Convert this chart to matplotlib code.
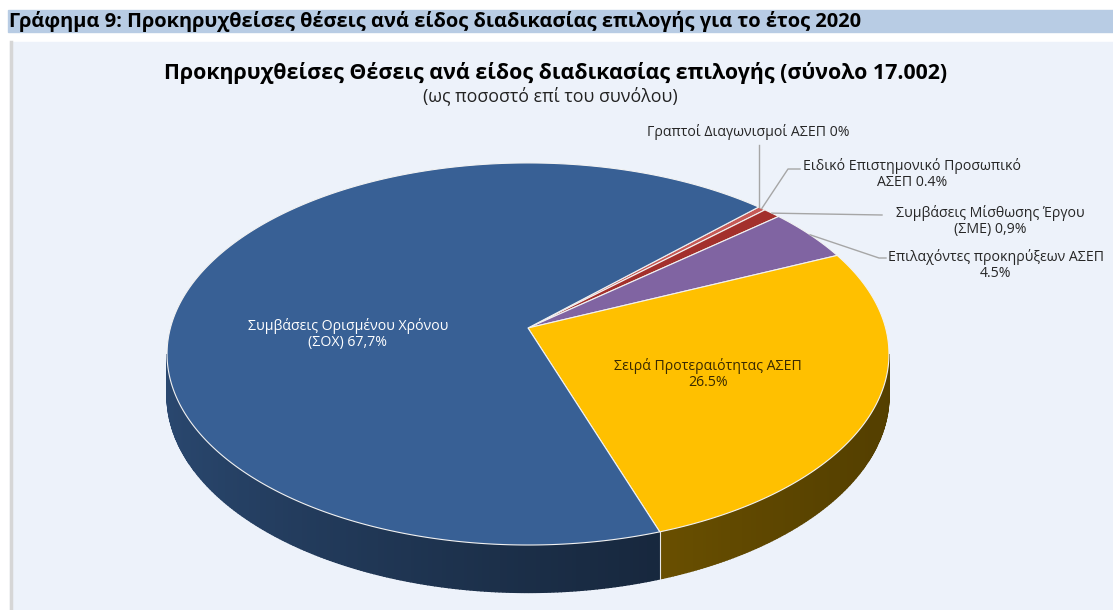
import numpy as np
import matplotlib.pyplot as plt
from matplotlib.colors import to_rgb
from matplotlib.patches import Polygon, Rectangle

plt.rcParams['font.family'] = ['Open Sans', 'DejaVu Sans']

# data: share of advertised posts by selection procedure (total 17.002)
categories = [
    "Γραπτοί Διαγωνισμοί ΑΣΕΠ",
    "Ειδικό Επιστημονικό Προσωπικό ΑΣΕΠ",
    "Συμβάσεις Μίσθωσης Έργου (ΣΜΕ)",
    "Επιλαχόντες προκηρύξεων ΑΣΕΠ",
    "Σειρά Προτεραιότητας ΑΣΕΠ",
    "Συμβάσεις Ορισμένου Χρόνου (ΣΟΧ)",
]
shares = [0.0, 0.4, 0.9, 4.5, 26.5, 67.7]
label_texts = [
    "Γραπτοί Διαγωνισμοί ΑΣΕΠ 0%",
    "Ειδικό Επιστημονικό Προσωπικό\nΑΣΕΠ 0.4%",
    "Συμβάσεις Μίσθωσης Έργου\n(ΣΜΕ) 0,9%",
    "Επιλαχόντες προκηρύξεων ΑΣΕΠ\n4.5%",
    "Σειρά Προτεραιότητας ΑΣΕΠ\n26.5%",
    "Συμβάσεις Ορισμένου Χρόνου\n(ΣΟΧ) 67,7%",
]
colors = ["#c0504d", "#c65a56", "#a3302c", "#8064a2", "#ffc000", "#386095"]

heading = "Γράφημα 9: Προκηρυχθείσες θέσεις ανά είδος διαδικασίας επιλογής για το έτος 2020"
title = "Προκηρυχθείσες Θέσεις ανά είδος διαδικασίας επιλογής (σύνολο 17.002)"
subtitle = "(ως ποσοστό επί του συνόλου)"

# 3d pie geometry (pixels)
CX, CY = 528, 328
RX, RY = 357.6, 187.5
K = 0.136
DEPTH = 41
START = 45.0
FS = 10.2


def project(ang, frac=1.0, drop=0.0):
    a = np.radians(ang)
    u = frac * np.sin(a)
    v = frac * np.cos(a)
    w = 1 + K * v
    return CX + RX * u / w, CY - RY * v / w + drop / w


fig = plt.figure(figsize=(11.13, 6.10), dpi=100)
ax = fig.add_axes([0, 0, 1, 1])
ax.set_xlim(0, 1113)
ax.set_ylim(610, 0)
ax.axis('off')

# heading band and chart area
ax.add_patch(Rectangle((8, 10), 1105, 22, color="#b8cce4", zorder=0))
ax.text(9, 21, heading, fontsize=14.4, fontweight='bold', va='center', ha='left')
ax.add_patch(Rectangle((10, 42), 1103, 568, color="#edf2fa", zorder=0))
ax.plot([11, 11], [42, 610], color="#d6d6d6", lw=2.5, zorder=1)

ax.text(556, 73, title, fontsize=15.4, fontweight='bold', ha='center', va='center')
ax.text(550, 96, subtitle, fontsize=12.8, ha='center', va='center', color="#222222")

# wedge angles (clockwise from top)
edges = START + 3.6 * np.concatenate([[0], np.cumsum(shares)])
vis_a, vis_b = 90 + np.degrees(np.arcsin(K)), 270 - np.degrees(np.arcsin(K))

# side walls, shaded lighter towards the left
for i in range(len(shares)):
    a, b = edges[i], edges[i + 1]
    base = np.array(to_rgb(colors[i]))
    for off in (0, 360):
        lo, hi = max(a, vis_a + off), min(b, vis_b + off)
        if hi <= lo:
            continue
        angs = np.linspace(lo, hi, max(int((hi - lo) * 2), 2))
        for j in range(len(angs) - 1):
            a1, a2 = angs[j], angs[j + 1]
            u = np.sin(np.radians((a1 + a2) / 2))
            s = 0.33 + 0.42 * ((1 - u) / 2) ** 1.5
            pts = [project(a1), project(a2), project(a2, drop=DEPTH), project(a1, drop=DEPTH)]
            ax.add_patch(Polygon(pts, closed=True, facecolor=base * s, edgecolor=base * s,
                                 lw=1.0, zorder=2))
        if lo > vis_a + off + 0.1:
            x0, y0 = project(lo)
            x1, y1 = project(lo, drop=DEPTH)
            ax.plot([x0, x1], [y0, y1], color="#e8e8e8", lw=0.8, zorder=3)

# top faces
for i in range(len(shares)):
    a, b = edges[i], edges[i + 1]
    angs = np.linspace(a, b, max(int((b - a) * 3), 2))
    pts = [(CX, CY)] + [project(t) for t in angs]
    ax.add_patch(Polygon(pts, closed=True, facecolor=colors[i], edgecolor="#f2f2f2",
                         lw=0.8, joinstyle='round', zorder=4))

# labels inside the slices
ax.text(348, 334, label_texts[5], fontsize=FS, color="white", ha='center', va='center',
        linespacing=1.1, zorder=6)
ax.text(708, 374, label_texts[4], fontsize=FS, color="#3a2a00", ha='center', va='center',
        linespacing=1.1, zorder=6)

# outer labels with leader lines
mids = (edges[:-1] + edges[1:]) / 2
lc = "#a6a6a6"
tc = "#262626"
x0, y0 = project(mids[0])
ax.plot([x0, x0], [y0, 145], color=lc, lw=1, zorder=5)
ax.text(748, 132, label_texts[0], fontsize=FS, ha='center', va='center', color=tc)

x0, y0 = project(mids[1])
ax.plot([x0, 788, 800], [y0, 169, 169], color=lc, lw=1, zorder=5)
ax.text(912, 174, label_texts[1], fontsize=FS, ha='center', va='center',
        linespacing=1.1, color=tc)

x0, y0 = project(mids[2])
ax.plot([x0, 882], [y0, 215], color=lc, lw=1, zorder=5)
ax.text(990, 221, label_texts[2], fontsize=FS, ha='center', va='center',
        linespacing=1.1, color=tc)

x0, y0 = project(mids[3])
ax.plot([x0, 879, 886], [y0, 258, 258], color=lc, lw=1, zorder=5)
ax.text(996, 265, label_texts[3], fontsize=FS, ha='center', va='center',
        linespacing=1.1, color=tc)

fig.savefig("out.png", dpi=100)
